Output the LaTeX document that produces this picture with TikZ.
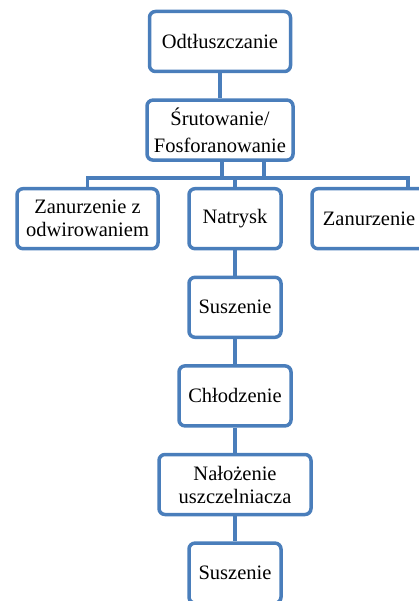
\documentclass[tikz,border=0pt]{standalone}
\usepackage{fontspec}
\setmainfont{Liberation Serif}
\definecolor{boxblue}{HTML}{4A7EBB}
\begin{document}
\begin{tikzpicture}
		[stepbox/.style={draw=boxblue,line width=3.5pt,rounded corners=6pt,fill=white,align=center,inner sep=0pt,minimum height=60pt,font=\fontsize{20.5pt}{23pt}\selectfont},
		edge from parent/.style={draw=boxblue,line width=3.5pt},
		bus/.style 2 args={edge from parent path={([xshift=#1]\tikzparentnode.south) |- ([xshift=#2,yshift=9pt]\tikzchildnode.north) -- ([xshift=#2]\tikzchildnode.north)}},
		drop/.style={edge from parent path={([yshift=9pt]\tikzchildnode.north) -- (\tikzchildnode.north)}},
		chain/.style={edge from parent path={(\tikzparentnode.south) -- (\tikzchildnode.north)}},
		level distance=88.6pt,
		level 2/.style={sibling distance=140pt},
		level 3/.style={chain}]
		\useasboundingbox (0,0) rectangle (419pt,-601pt);
		\node[stepbox,minimum width=141pt,name=odt] at (220pt,-41.5pt) {Odtłuszczanie}
		child
		{
			node[stepbox,minimum width=146pt,name=srut]{Śrutowanie/\\[4pt]Fosforanowanie}
			child[xshift=7.5pt,bus={44pt}{0pt}]
			{
				node[stepbox,minimum width=141pt,name=zanodw]{Zanurzenie z\\odwirowaniem}
			}
			child[xshift=15pt,drop]
			{
				node[stepbox,minimum width=92pt,name=natrysk]{Natrysk}
				child
				{
					node[stepbox,minimum width=92pt,name=susz1]{Suszenie}
					child
					{
						node[stepbox,minimum width=112pt,name=chlod]{Chłodzenie}
						child
						{
							node[stepbox,minimum width=152pt,name=naloz]{Nałożenie\\uszczelniacza}
							child
							{
								node[stepbox,minimum width=92pt,name=susz2]{Suszenie}
							}
						}
					}
				}
			}
			child[xshift=9pt,bus={2pt}{39pt}]
			{
				node[stepbox,minimum width=114pt,name=zan]{Zanurzenie}
			}
		};
	\end{tikzpicture}
\end{document}
